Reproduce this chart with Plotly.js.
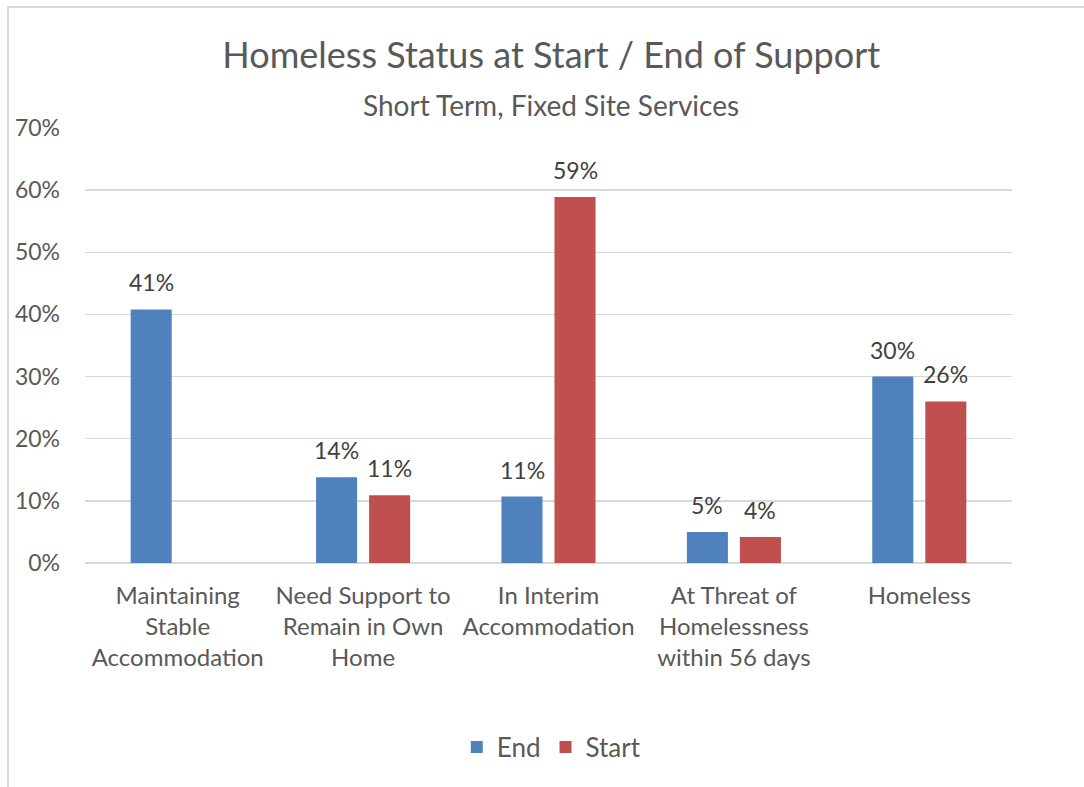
<!DOCTYPE html>
<html>
<head>
<meta charset="utf-8">
<script src="https://cdn.plot.ly/plotly-3.0.1.min.js"></script>
<style>
html,body{margin:0;padding:0;background:#fff;}
#wrap{position:relative;width:1084px;height:787px;overflow:hidden;}
#chart{width:1084px;height:787px;}
#frame{position:absolute;left:7px;top:6px;width:1200px;height:900px;border:2px solid #d9d9d9;pointer-events:none;box-sizing:border-box;}
</style>
</head>
<body>
<div id="wrap"><div id="chart"></div><div id="frame"></div></div>
<script>
const categories = [
  "Maintaining<br>Stable<br>Accommodation",
  "Need Support to<br>Remain in Own<br>Home",
  "In Interim<br>Accommodation",
  "At Threat of<br>Homelessness<br>within 56 days",
  "Homeless"
];
const endValues = [0.408, 0.138, 0.107, 0.050, 0.300];
const startValues = [null, 0.109, 0.589, 0.042, 0.260];
const seriesNames = ["End", "Start"];
const yTickVals = [0, 0.1, 0.2, 0.3, 0.4, 0.5, 0.6, 0.7];

const FONT = "Lato, 'Open Sans', sans-serif";
const labelFont = {family: FONT, size: 23, color: "#404040"};

const traces = [
  {type: "bar", name: seriesNames[0], x: categories, y: endValues,
   marker: {color: "#4f81bd"}, hoverinfo: "skip"},
  {type: "bar", name: seriesNames[1], x: categories, y: startValues,
   marker: {color: "#c0504d"}, hoverinfo: "skip"}
];

const fmt = v => Math.round(v * 100) + "%";
const annotations = [];
[endValues, startValues].forEach((vals, si) => {
  vals.forEach((v, i) => {
    if (v === null) return;
    annotations.push({x: categories[i], y: v, xref: "x", yref: "y",
      text: fmt(v), showarrow: false, xanchor: "center", yanchor: "middle",
      xshift: si === 0 ? -26.5 : 26.5, yshift: 27, font: labelFont});
  });
});
annotations.push({text: "Short Term, Fixed Site Services", showarrow: false,
  xref: "paper", yref: "paper", x: 0.503, y: (563-105)/435,
  xanchor: "center", yanchor: "middle",
  font: {family: FONT, size: 28, color: "#595959"}});

const layout = {
  width: 1084, height: 787,
  paper_bgcolor: "#ffffff", plot_bgcolor: "#ffffff",
  margin: {l: 85, r: 72, t: 128, b: 224},
  barmode: "group", bargap: 0.428, bargroupgap: 0.226,
  font: {family: FONT, color: "#595959"},
  title: {text: "Homeless Status at Start / End of Support",
          font: {family: FONT, size: 36, color: "#595959"},
          x: 0.503, xanchor: "center", xref: "paper",
          y: 1 - 55/787, yanchor: "middle", yref: "container"},
  annotations: annotations,
  xaxis: {type: "category", showgrid: false, zeroline: false, showline: false,
          tickfont: {family: FONT, size: 24, color: "#595959"}, ticks: "", ticklabelstandoff: 16},
  yaxis: {range: [0, 0.7], tickvals: yTickVals, tickformat: ".0%",
          showgrid: true, gridcolor: "#d9d9d9", gridwidth: 1.5,
          zeroline: true, zerolinecolor: "#d9d9d9", zerolinewidth: 1.5,
          showline: false, ticks: "", ticklabelstandoff: 24,
          tickfont: {family: FONT, size: 23, color: "#595959"}},
  legend: {orientation: "h", x: 0.503, xanchor: "center", y: (563-747)/435, yanchor: "middle",
           font: {family: FONT, size: 26, color: "#595959"}, itemwidth: 30,
           traceorder: "normal"},
  showlegend: true
};

Plotly.newPlot("chart", traces, layout, {displayModeBar: false, staticPlot: true});
</script>
</body>
</html>
